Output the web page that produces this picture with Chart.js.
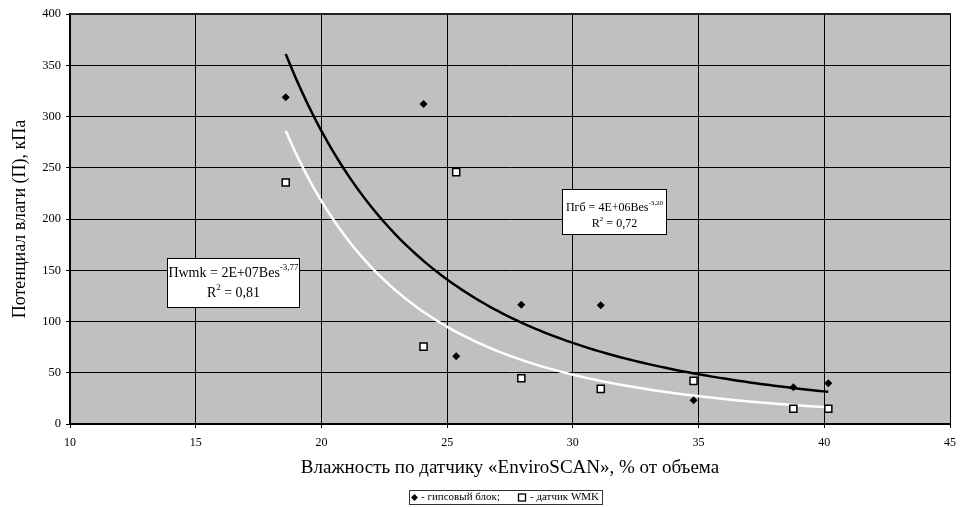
<!DOCTYPE html>
<html>
<head>
<meta charset="utf-8">
<script src="https://cdn.jsdelivr.net/npm/chart.js@4/dist/chart.umd.min.js"></script>
<style>
  html, body { margin: 0; padding: 0; background: #fff; }
  #wrap { width: 971px; height: 507px; }
</style>
</head>
<body>
<div id="wrap"><canvas id="c" width="971" height="507"></canvas></div>
<script>
// Sensor readings: volumetric moisture from EnviroSCAN (%), and moisture potential (kPa)
const moisture    = [18.58, 24.06, 25.36, 27.95, 31.11, 34.80, 38.77, 40.16];
const gypsumBlock = [318.8, 312.3, 66.1, 116.4, 115.8, 23.2, 35.9, 39.8];
const wmkSensor   = [235.6, 75.5, 245.7, 44.6, 34.3, 42.1, 14.8, 14.8];

const xTicks = [10, 15, 20, 25, 30, 35, 40, 45];
const yTicks = [0, 50, 100, 150, 200, 250, 300, 350, 400];

const xTitle = 'Влажность по датчику «EnviroSCAN», % от объема';
const yTitle = 'Потенциал влаги (П), кПа';
const legendGypsum = '- гипсовый блок;';
const legendWmk = '- датчик WMK';

const SERIF = '"Liberation Serif", "Times New Roman", serif';

// Power trendline y = a * x^b, least squares in log-log space
function powerFit(xs, ys) {
  const lx = xs.map(Math.log), ly = ys.map(Math.log);
  const n = xs.length;
  const mx = lx.reduce((s, v) => s + v, 0) / n;
  const my = ly.reduce((s, v) => s + v, 0) / n;
  let sxy = 0, sxx = 0;
  for (let i = 0; i < n; i++) { sxy += (lx[i] - mx) * (ly[i] - my); sxx += (lx[i] - mx) ** 2; }
  const b = sxy / sxx;
  const a = Math.exp(my - b * mx);
  return { a, b };
}
function trendPoints(xs, ys) {
  const { a, b } = powerFit(xs, ys);
  const lo = Math.min(...xs), hi = Math.max(...xs);
  const pts = [];
  const steps = 120;
  for (let i = 0; i <= steps; i++) {
    const x = lo + (hi - lo) * i / steps;
    pts.push({ x, y: a * Math.pow(x, b) });
  }
  return pts;
}

const toXY = (xs, ys) => xs.map((x, i) => ({ x, y: ys[i] }));

// Plot area background, outer frame
const frame = {
  id: 'frame',
  beforeDraw(chart) {
    const { ctx, chartArea: a } = chart;
    ctx.save();
    ctx.fillStyle = '#c0c0c0';
    ctx.fillRect(a.left, a.top, a.right - a.left, a.bottom - a.top);
    ctx.restore();
  },
  beforeDatasetsDraw(chart) {
    const { ctx, chartArea: a } = chart;
    ctx.save();
    ctx.strokeStyle = '#222';
    ctx.lineWidth = 2;
    ctx.beginPath();
    ctx.moveTo(a.left, a.top);
    ctx.lineTo(a.right + 1, a.top);
    ctx.stroke();
    ctx.restore();
  }
};

// Text run with optional superscripts
function drawRuns(ctx, runs, cx, cy, size) {
  const base = size + 'px ' + SERIF;
  const sup = Math.round(size * 0.62) + 'px ' + SERIF;
  let w = 0;
  runs.forEach(r => { ctx.font = r.sup ? sup : base; w += ctx.measureText(r.t).width; });
  let x = cx - w / 2;
  ctx.textBaseline = 'middle';
  ctx.textAlign = 'left';
  runs.forEach(r => {
    ctx.font = r.sup ? sup : base;
    ctx.fillText(r.t, x, r.sup ? cy - size * 0.38 : cy);
    x += ctx.measureText(r.t).width;
  });
}

function eqBox(ctx, box, lines, size) {
  ctx.save();
  ctx.fillStyle = '#fff';
  ctx.fillRect(box.l, box.t, box.r - box.l, box.b - box.t);
  ctx.strokeStyle = '#000';
  ctx.lineWidth = 1;
  ctx.strokeRect(box.l + 0.5, box.t + 0.5, box.r - box.l - 1, box.b - box.t - 1);
  ctx.fillStyle = '#000';
  const cx = (box.l + box.r) / 2;
  lines.forEach(ln => drawRuns(ctx, ln.runs, cx, ln.y, size));
  ctx.restore();
}

const labels = {
  id: 'labels',
  afterDraw(chart) {
    const { ctx } = chart;
    eqBox(ctx, { l: 167, t: 258, r: 300, b: 308 }, [
      { y: 273, runs: [{ t: 'Пwmk = 2E+07Bes' }, { t: '-3,77', sup: true }] },
      { y: 293, runs: [{ t: 'R' }, { t: '2', sup: true }, { t: ' = 0,81' }] }
    ], 14);
    eqBox(ctx, { l: 562, t: 189, r: 667, b: 235 }, [
      { y: 207.5, runs: [{ t: 'Пгб = 4E+06Bes' }, { t: '-3,20', sup: true }] },
      { y: 224, runs: [{ t: 'R' }, { t: '2', sup: true }, { t: ' = 0,72' }] }
    ], 12);

    // Legend
    ctx.save();
    ctx.fillStyle = '#fff';
    ctx.fillRect(409, 490, 194, 14);
    ctx.strokeStyle = '#333';
    ctx.lineWidth = 1;
    ctx.strokeRect(409.5, 490.5, 193, 14);
    const ly = 497.5;
    ctx.fillStyle = '#000';
    ctx.beginPath();
    ctx.moveTo(414.5, ly - 3.5);
    ctx.lineTo(418, ly);
    ctx.lineTo(414.5, ly + 3.5);
    ctx.lineTo(411, ly);
    ctx.closePath();
    ctx.fill();
    ctx.fillStyle = '#fff';
    ctx.fillRect(518.5, ly - 3.5, 7, 7);
    ctx.strokeStyle = '#000';
    ctx.lineWidth = 1.3;
    ctx.strokeRect(518.5, ly - 3.5, 7, 7);
    ctx.fillStyle = '#000';
    ctx.font = '11px ' + SERIF;
    ctx.textBaseline = 'middle';
    ctx.textAlign = 'left';
    ctx.fillText(legendGypsum, 421, ly);
    ctx.fillText(legendWmk, 530, ly);
    ctx.restore();
  }
};

new Chart(document.getElementById('c'), {
  type: 'scatter',
  data: {
    datasets: [
      {
        label: 'гипсовый блок',
        data: toXY(moisture, gypsumBlock),
        pointStyle: 'rectRot',
        pointRadius: 4,
        backgroundColor: '#000',
        borderColor: '#000',
        borderWidth: 0
      },
      {
        label: 'датчик WMK',
        data: toXY(moisture, wmkSensor),
        pointStyle: 'rect',
        pointRadius: 5,
        backgroundColor: '#fff',
        borderColor: '#000',
        borderWidth: 1.5
      },
      {
        label: 'Пгб',
        data: trendPoints(moisture, gypsumBlock),
        showLine: true,
        pointRadius: 0,
        borderColor: '#000',
        borderWidth: 2.5,
        tension: 0
      },
      {
        label: 'Пwmk',
        data: trendPoints(moisture, wmkSensor),
        showLine: true,
        pointRadius: 0,
        borderColor: '#fff',
        borderWidth: 2.5,
        tension: 0
      }
    ]
  },
  options: {
    responsive: false,
    animation: false,
    devicePixelRatio: 1,
    layout: { padding: { top: 14, right: 21, left: 0, bottom: 0 } },
    plugins: { legend: { display: false }, tooltip: { enabled: false } },
    scales: {
      x: {
        type: 'linear',
        min: 10, max: 45,
        afterBuildTicks: s => { s.ticks = xTicks.map(v => ({ value: v })); },
        afterFit: s => { s.height = 83; },
        ticks: { color: '#000', font: { family: SERIF, size: 12 }, padding: 8 },
        grid: { color: '#000', lineWidth: 1, tickLength: 4, tickColor: '#000' },
        border: { color: '#000', width: 2 },
        title: { display: true, text: xTitle, color: '#000', font: { family: SERIF, size: 19 }, padding: { top: 0, bottom: 28 } }
      },
      y: {
        type: 'linear',
        min: 0, max: 400,
        afterBuildTicks: s => { s.ticks = yTicks.map(v => ({ value: v })); },
        afterFit: s => { s.width = 70; },
        ticks: { color: '#000', font: { family: SERIF, size: 12.5 }, padding: 5 },
        grid: { color: '#000', lineWidth: 1, tickLength: 4, tickColor: '#000' },
        border: { color: '#000', width: 2 },
        title: { display: true, text: yTitle, color: '#000', font: { family: SERIF, size: 18 }, padding: { top: 9, bottom: 0 } }
      }
    }
  },
  plugins: [frame, labels]
});
</script>
</body>
</html>
